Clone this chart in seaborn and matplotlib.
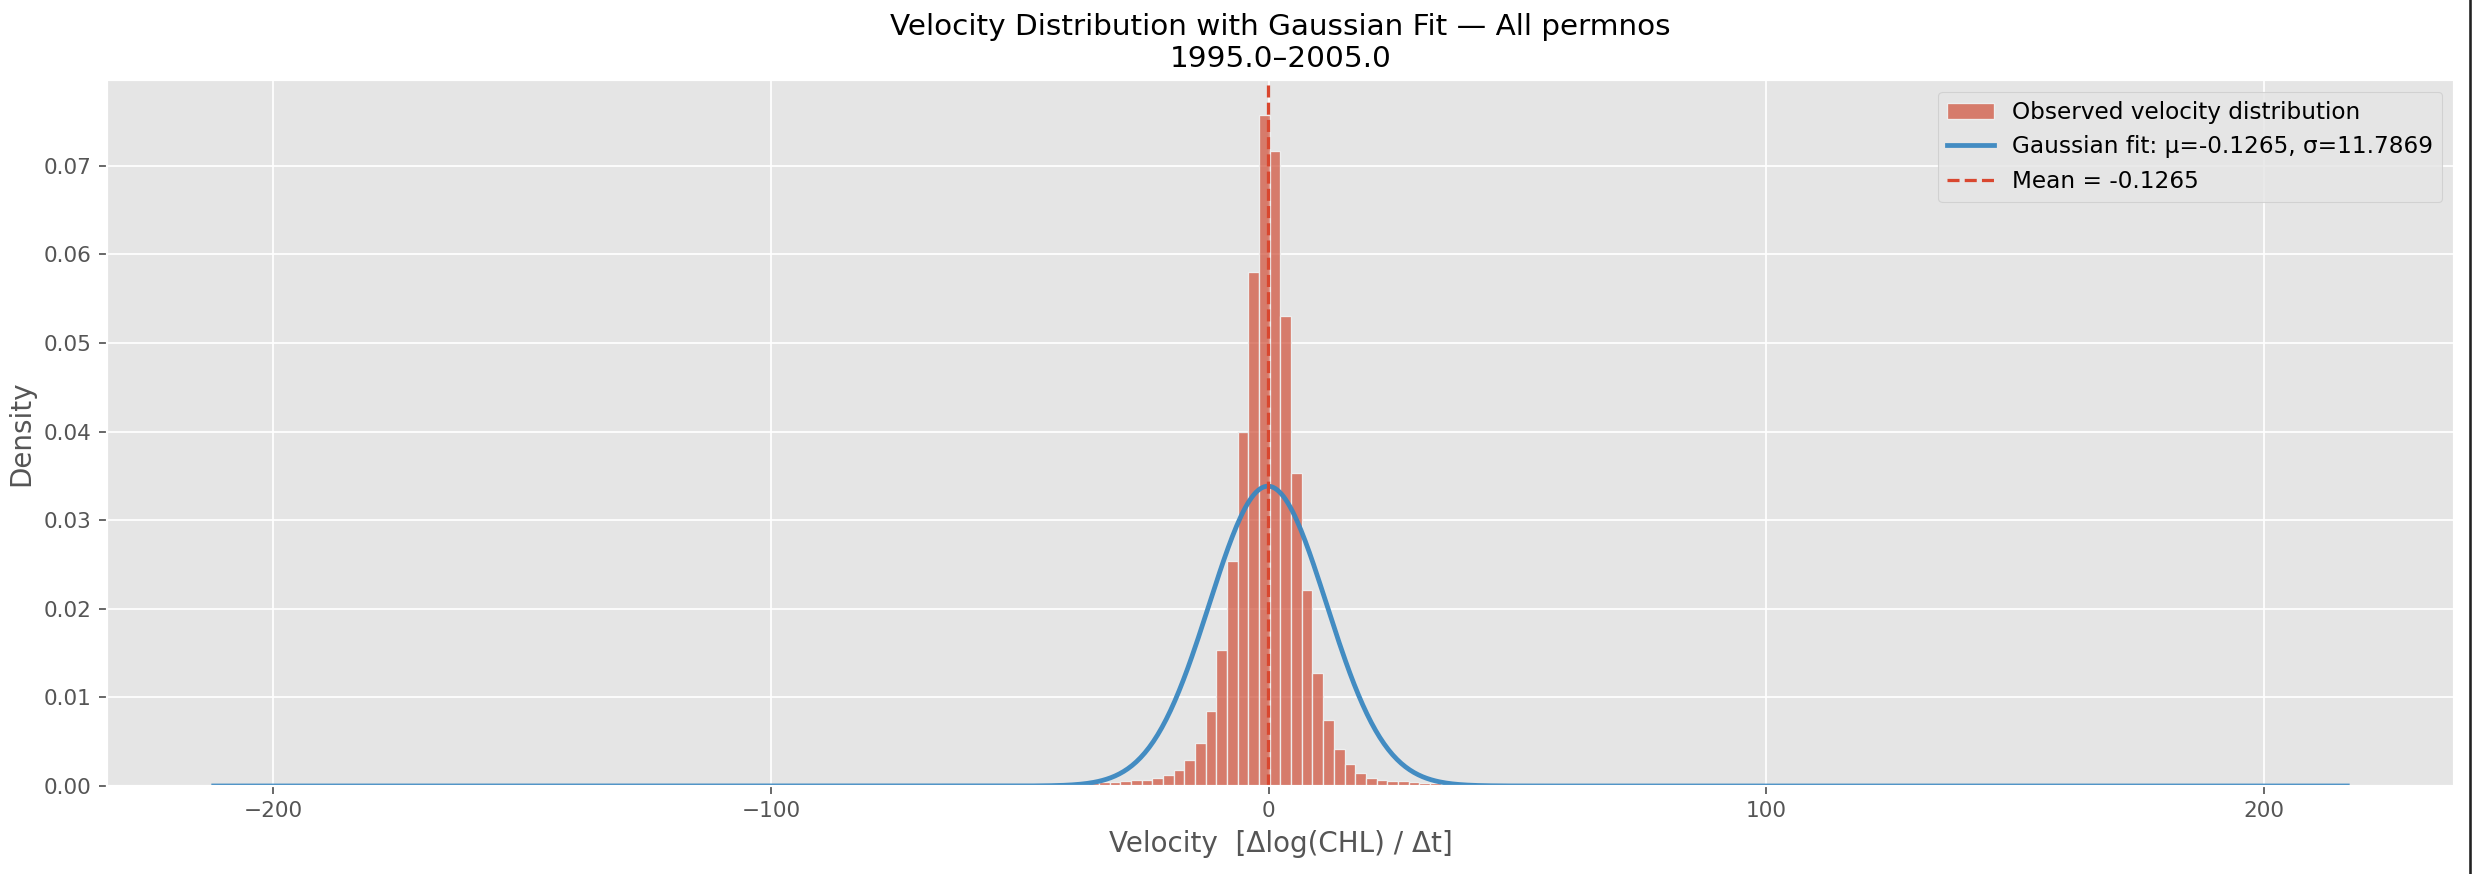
import matplotlib.pyplot as plt
import numpy as np
import pandas as pd
import seaborn as sns
from matplotlib.lines import Line2D

# Histogram range / fit values
DATA_MIN = -212.0
DATA_MAX = 216.8
N_BINS = 200
MU = -0.1265
SIGMA = 11.7869

# Density of the visible bins, starting at bin index FIRST_BIN
FIRST_BIN = 79
DENSITIES = [
    0.0001, 0.0001, 0.0002, 0.0003, 0.0004, 0.00049, 0.00052, 0.00068,
    0.00068, 0.00087, 0.00124, 0.0018, 0.0029, 0.0049, 0.0085, 0.0153,
    0.0254, 0.0400, 0.0580, 0.0758, 0.0717, 0.0531, 0.0353, 0.0221,
    0.0127, 0.0074, 0.0042, 0.00245, 0.0015, 0.0009, 0.0007, 0.00056,
    0.00054, 0.0004, 0.00038, 0.0003, 0.0002, 0.0001, 0.0001,
]

TITLE = "Velocity Distribution with Gaussian Fit \u2014 All permnos\n1995.0\u20132005.0"


def main() -> None:
    plt.style.use("ggplot")

    DPI = 156
    fig, ax = plt.subplots(figsize=(2472 / DPI, 874 / DPI), dpi=DPI)
    fig.subplots_adjust(left=0.0433, right=0.9927, top=0.9085, bottom=0.1007)

    edges = np.linspace(DATA_MIN, DATA_MAX, N_BINS + 1)
    width = edges[1] - edges[0]
    hist_df = pd.DataFrame({
        "velocity": edges[FIRST_BIN:FIRST_BIN + len(DENSITIES)] + width / 2,
        "density": DENSITIES,
    })

    sns.histplot(
        data=hist_df,
        x="velocity",
        weights="density",
        bins=N_BINS,
        binrange=(DATA_MIN, DATA_MAX),
        stat="count",
        color="#D04F38",
        alpha=0.7,
        edgecolor="#EEEEEE",
        linewidth=0.6,
        label="Observed velocity distribution",
        ax=ax,
    )

    # Gaussian curve from the fitted parameters in the legend
    xs = np.linspace(DATA_MIN, DATA_MAX, 1000)
    pdf = np.exp(-0.5 * ((xs - MU) / SIGMA) ** 2) / (SIGMA * np.sqrt(2 * np.pi))
    fit_label = f"Gaussian fit: \u03bc={MU:.4f}, \u03c3={SIGMA:.4f}"
    mean_label = f"Mean = {MU:.4f}"
    ax.plot(xs, pdf, color="#3A87C0", lw=2.2, alpha=0.95, label=fit_label)
    ax.axvline(MU, color="#D9472F", ls="--", lw=1.5, label=mean_label)

    ax.set_xlim(DATA_MIN - 0.05 * (DATA_MAX - DATA_MIN),
                DATA_MAX + 0.05 * (DATA_MAX - DATA_MIN))
    ax.set_xticks([-200, -100, 0, 100, 200])
    ax.set_yticks(np.arange(0, 0.08, 0.01))
    ax.set_ylim(0, 0.0797)

    ax.set_title(TITLE, color="black", fontsize=13.6)
    ax.set_xlabel("Velocity  [\u0394log(CHL) / \u0394t]", fontsize=12.8)
    ax.set_ylabel("Density", fontsize=12.8)

    handles, labels = ax.get_legend_handles_labels()
    lookup = dict(zip(labels, handles))
    order = ["Observed velocity distribution", fit_label, mean_label]
    ax.legend([lookup[k] for k in order], order, loc="upper right",
              fontsize=10.7)

    # dark border at the right edge of the screenshot
    fig.add_artist(Line2D([0.9991, 0.9991], [0, 1], transform=fig.transFigure,
                          color="#222222", lw=1.2))

    fig.savefig("out.png", dpi=DPI)


if __name__ == "__main__":
    main()
